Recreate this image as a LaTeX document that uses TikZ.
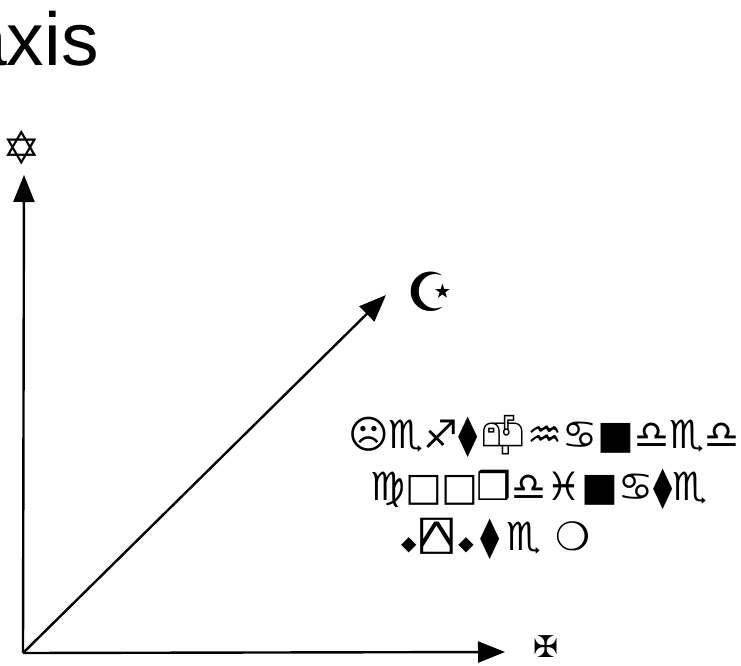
\documentclass[tikz,border=0pt]{standalone}
\usepackage{fontspec}
\setmainfont{Liberation Sans}
\newfontfamily\symf{DejaVu Sans}
\newfontfamily\symmono{DejaVu Sans Mono}
\newfontfamily\emojif{Noto Emoji}
\usetikzlibrary{arrows.meta}
\newcommand{\smalldiam}{{\fontsize{20}{20}\selectfont ◆}}
\begin{document}
\begin{tikzpicture}[x=1pt,y=1pt,
  axisline/.style={line width=2.4pt,-{Triangle[length=27pt,width=21pt]}},
  lbl/.style={inner sep=0pt,font=\symf},
  glyphline/.style={inner sep=0pt,anchor=base west,font=\symf\fontsize{39}{39}\selectfont}]
\useasboundingbox (0,0) rectangle (741,665);
\node[inner sep=0pt,anchor=base west,font=\fontsize{75}{75}\selectfont] (title) at (-35,599) {axis};
\coordinate (O) at (23,12);
\coordinate (X) at (505,13);
\coordinate (Y) at (24,490);
\coordinate (Z) at (386,370);
\draw[axisline] (O) -- (X);
\draw[axisline] (O) -- (Y);
\draw[axisline] (O) -- (Z);
\node[lbl,font=\symf\fontsize{30}{30}\selectfont,text height=0.7em,text depth=0pt] (xl) at (546,11.5) {✠};
\node[lbl,font=\symf\fontsize{46}{46}\selectfont] (yl) at (22,517) {✡};
\node[lbl,font=\symf\fontsize{54}{54}\selectfont] (zl) at (431,373) {☪};
\node[glyphline] (l1) at (348,217) {☹♏♐⧫{\emojif 📫}♒♋■♎♏♎};
\node[glyphline] (l2) at (370,165) {♍□\kern-1pt□\kern-1pt❒♎♓■♋⧫♏};
\node[glyphline] (l3) at (401,115) {\smalldiam\kern4pt\scalebox{1.4}[1]{\symmono ⍓}\kern5pt\smalldiam\kern7pt⧫\kern6pt♏\kern14pt❍};
\end{tikzpicture}
\end{document}
